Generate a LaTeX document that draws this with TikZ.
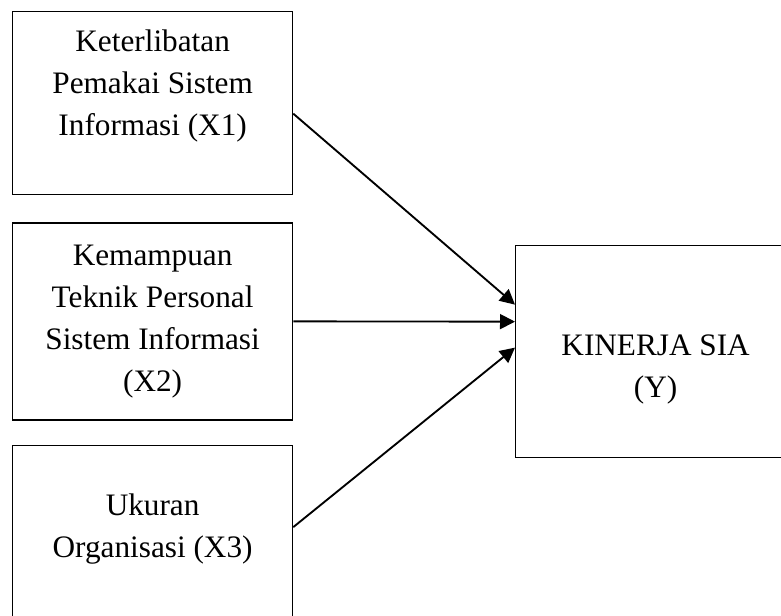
\documentclass[tikz,border=0pt]{standalone}
\usepackage{fontspec}
\setmainfont{Liberation Serif}
\usetikzlibrary{positioning, arrows.meta}

\begin{document}
\begin{tikzpicture}[
    x=0.4pt, y=-0.4pt,
    % --- GAYA ---
    box/.style={
            draw=black,
            line width=0.5pt,
            rectangle,
            align=center,
            minimum width=112pt,
            inner sep=2pt,
            font=\fontsize{12.5}{16.8}\selectfont
        },
    flow/.style={
            -{Triangle[length=6pt, width=6pt]},
            line width=0.75pt,
            color=black
        }
    ]
    \useasboundingbox (0,0) rectangle (781,615);

    % --- VARIABEL BEBAS (kolom kiri) ---
    \node[box, anchor=north west, minimum height=73.2pt] (x1) at (12,11)
        {Keterlibatan\\Pemakai Sistem\\Informasi (X1)\\[-0.4pt]\mbox{}};
    \node[box, below=10.8pt of x1, minimum height=78.8pt] (x2)
        {Kemampuan\\Teknik Personal\\Sistem Informasi\\(X2)};
    \node[box, below=9.6pt of x2, minimum height=73.2pt] (x3)
        {Ukuran\\Organisasi (X3)\\[-8.4pt]\mbox{}};

    % --- VARIABEL TERIKAT ---
    \node[box, anchor=north west, minimum height=84.8pt] (y) at (515,245)
        {\mbox{}\\[5.6pt]KINERJA SIA\\(Y)};

    % --- PANAH ---
    \draw[flow] ([yshift=-4.2pt]x1.east) -- ([yshift=18.8pt]y.west);
    \draw[flow] (x2.east) -- ([yshift=12pt]y.west);
    \draw[flow] ([yshift=3.8pt]x3.east) -- ([yshift=1.6pt]y.west);

\end{tikzpicture}
\end{document}
